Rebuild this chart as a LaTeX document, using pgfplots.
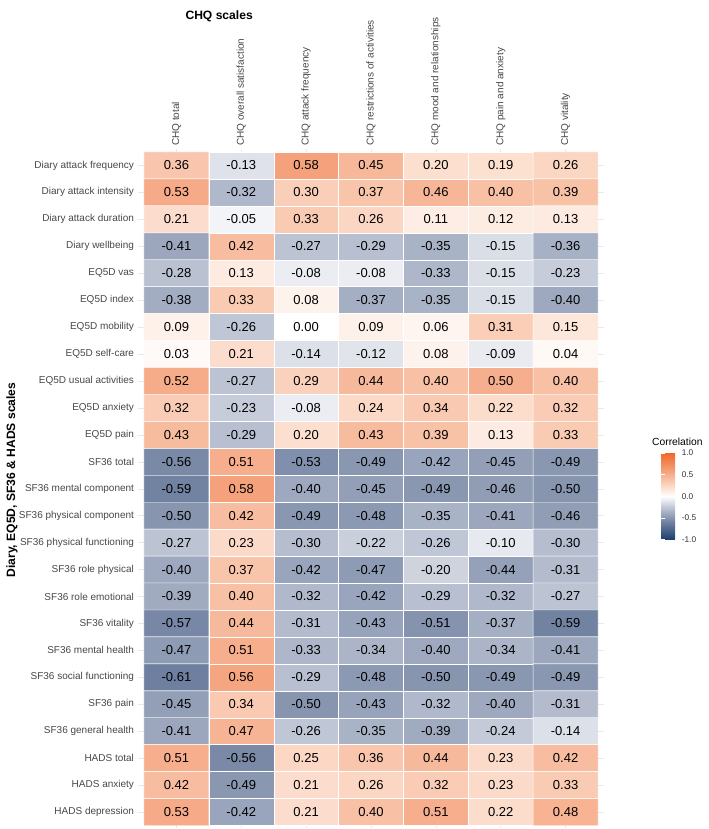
\documentclass[border=0pt]{standalone}
\usepackage{fontspec}
\setmainfont{Liberation Sans}
\usepackage{pgfplots}
\usepackage{pgfplotstable}
\pgfplotsset{compat=1.18}

\pgfplotstableread{
x y c
0 0 0.36
1 0 -0.13
2 0 0.58
3 0 0.45
4 0 0.20
5 0 0.19
6 0 0.26
0 1 0.53
1 1 -0.32
2 1 0.30
3 1 0.37
4 1 0.46
5 1 0.40
6 1 0.39
0 2 0.21
1 2 -0.05
2 2 0.33
3 2 0.26
4 2 0.11
5 2 0.12
6 2 0.13
0 3 -0.41
1 3 0.42
2 3 -0.27
3 3 -0.29
4 3 -0.35
5 3 -0.15
6 3 -0.36
0 4 -0.28
1 4 0.13
2 4 -0.08
3 4 -0.08
4 4 -0.33
5 4 -0.15
6 4 -0.23
0 5 -0.38
1 5 0.33
2 5 0.08
3 5 -0.37
4 5 -0.35
5 5 -0.15
6 5 -0.40
0 6 0.09
1 6 -0.26
2 6 0.00
3 6 0.09
4 6 0.06
5 6 0.31
6 6 0.15
0 7 0.03
1 7 0.21
2 7 -0.14
3 7 -0.12
4 7 0.08
5 7 -0.09
6 7 0.04
0 8 0.52
1 8 -0.27
2 8 0.29
3 8 0.44
4 8 0.40
5 8 0.50
6 8 0.40
0 9 0.32
1 9 -0.23
2 9 -0.08
3 9 0.24
4 9 0.34
5 9 0.22
6 9 0.32
0 10 0.43
1 10 -0.29
2 10 0.20
3 10 0.43
4 10 0.39
5 10 0.13
6 10 0.33
0 11 -0.56
1 11 0.51
2 11 -0.53
3 11 -0.49
4 11 -0.42
5 11 -0.45
6 11 -0.49
0 12 -0.59
1 12 0.58
2 12 -0.40
3 12 -0.45
4 12 -0.49
5 12 -0.46
6 12 -0.50
0 13 -0.50
1 13 0.42
2 13 -0.49
3 13 -0.48
4 13 -0.35
5 13 -0.41
6 13 -0.46
0 14 -0.27
1 14 0.23
2 14 -0.30
3 14 -0.22
4 14 -0.26
5 14 -0.10
6 14 -0.30
0 15 -0.40
1 15 0.37
2 15 -0.42
3 15 -0.47
4 15 -0.20
5 15 -0.44
6 15 -0.31
0 16 -0.39
1 16 0.40
2 16 -0.32
3 16 -0.42
4 16 -0.29
5 16 -0.32
6 16 -0.27
0 17 -0.57
1 17 0.44
2 17 -0.31
3 17 -0.43
4 17 -0.51
5 17 -0.37
6 17 -0.59
0 18 -0.47
1 18 0.51
2 18 -0.33
3 18 -0.34
4 18 -0.40
5 18 -0.34
6 18 -0.41
0 19 -0.61
1 19 0.56
2 19 -0.29
3 19 -0.48
4 19 -0.50
5 19 -0.49
6 19 -0.49
0 20 -0.45
1 20 0.34
2 20 -0.50
3 20 -0.43
4 20 -0.32
5 20 -0.40
6 20 -0.31
0 21 -0.41
1 21 0.47
2 21 -0.26
3 21 -0.35
4 21 -0.39
5 21 -0.24
6 21 -0.14
0 22 0.51
1 22 -0.56
2 22 0.25
3 22 0.36
4 22 0.44
5 22 0.23
6 22 0.42
0 23 0.42
1 23 -0.49
2 23 0.21
3 23 0.26
4 23 0.32
5 23 0.23
6 23 0.33
0 24 0.53
1 24 -0.42
2 24 0.21
3 24 0.40
4 24 0.51
5 24 0.22
6 24 0.48
}\corrdata

\begin{document}
\begin{tikzpicture}
\useasboundingbox (0,0) rectangle (709bp,829bp);
\begin{axis}[
  at={(137.5bp,0.8bp)}, anchor=south west,
  scale only axis, width=467bp, height=678.9bp,
  xmin=-0.6, xmax=6.6, ymin=-0.6, ymax=24.6,
  y dir=reverse,
  xtick={0,...,6}, ytick={0,...,24},
  xticklabels={CHQ total, CHQ overall satisfaction, CHQ attack frequency, CHQ restrictions of activities, CHQ mood and relationships, CHQ pain and anxiety, CHQ vitality},
  yticklabels={Diary attack frequency, Diary attack intensity, Diary attack duration, Diary wellbeing, EQ5D vas, EQ5D index, EQ5D mobility, EQ5D self-care, EQ5D usual activities, EQ5D anxiety, EQ5D pain, SF36 total, SF36 mental component, SF36 physical component, SF36 physical functioning, SF36 role physical, SF36 role emotional, SF36 vitality, SF36 mental health, SF36 social functioning, SF36 pain, SF36 general health, HADS total, HADS anxiety, HADS depression},
  xticklabel pos=upper,
  x tick label style={rotate=90, anchor=west, font=\fontsize{10bp}{11bp}\selectfont, text=black!72},
  y tick label style={anchor=east, font=\fontsize{10bp}{11bp}\selectfont, text=black!72},
  major tick length=0pt,
  axis line style={draw=none},
  grid=major, major grid style={draw=black!9, line width=0.5bp},
  colormap={corr}{rgb255(0)=(28,62,110) rgb255(40)=(112,129,160) rgb255(70)=(181,189,206) rgb255(100)=(255,255,255) rgb255(120)=(252,223,207) rgb255(140)=(248,192,164) rgb255(158)=(245,162,124) rgb255(200)=(240,104,42)},
  point meta min=-1, point meta max=1,
  colorbar,
  colorbar style={
    at={(parent axis.north east)}, anchor=north west,
    xshift=48bp, yshift=-303.7bp,
    scale only axis, width=17.3bp, height=86.5bp,
    ytick={-1,-0.5,0,0.5,1},
    yticklabel pos=right,
    yticklabel style={font=\fontsize{8.3bp}{9bp}\selectfont, text=black!80, /pgf/number format/.cd, fixed, fixed zerofill, precision=1, assume math mode=true},
    axis line style={draw=none},
    axis on top,
    major tick length=3.5bp,
    tick align=inside,
    major tick style={white, line width=0.7bp},
  },
]
\addplot[matrix plot*, mesh/cols=7, point meta=explicit, shader=faceted, faceted color=white, line width=0.4bp] table[x=x, y=y, meta=c]{\corrdata};
\addplot[draw=none, mark=none, point meta=explicit,
  nodes near coords={\pgfmathprintnumber[fixed, fixed zerofill, precision=2, assume math mode=true]{\pgfplotspointmeta}},
  nodes near coords align={center},
  every node near coord/.append style={font=\fontsize{13bp}{15bp}\selectfont, text=black, anchor=center}]
  table[x=x, y=y, meta=c]{\corrdata};
\end{axis}
\node[anchor=base west, font=\bfseries\fontsize{12.1bp}{14bp}\selectfont] at (182bp,809bp) {CHQ scales};
\node[anchor=base west, inner sep=0pt, font=\fontsize{10.3bp}{12bp}\selectfont] at (652bp,383bp) {Correlation};
\node[rotate=90, font=\bfseries\fontsize{12.1bp}{14bp}\selectfont] at (12bp,349bp) {Diary, EQ5D, SF36 \& HADS scales};
\end{tikzpicture}
\end{document}
